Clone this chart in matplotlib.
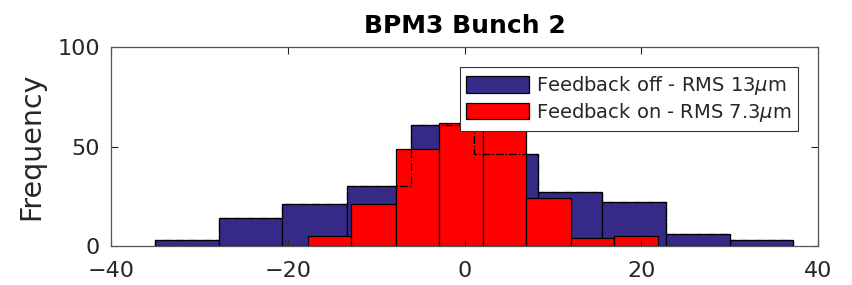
import numpy as np
import matplotlib.pyplot as plt

# ====== data ======
off_edges = [-35.0, -27.8, -20.6, -13.3, -6.1, 1.1, 8.3, 15.6, 22.8, 30.0, 37.2]
off_counts = [3, 14, 21, 30, 61, 46, 27, 22, 6, 3]

on_edges = [-17.7, -12.8, -7.8, -2.9, 2.1, 7.0, 12.0, 16.9, 21.9]
on_counts = [5, 21, 49, 62, 64, 24, 4, 5]

label_off = r'Feedback off - RMS 13$\mu$m'
label_on = r'Feedback on - RMS 7.3$\mu$m'
title = 'BPM3 Bunch 2'
xticks = [-40, -20, 0, 20, 40]
yticks = [0, 50, 100]

c_off = '#352a87'
c_on = '#ff0000'
txt = '#262626'

fig = plt.figure(figsize=(8.52, 2.85), dpi=100)
ax = fig.add_axes([0.1303, 0.1368, 0.8298, 0.6982])

def draw_hist(edges, counts, color, label):
    edges = np.asarray(edges)
    ax.bar(edges[:-1], counts, width=np.diff(edges), align='edge',
           color=color, edgecolor='k', linewidth=0.9, label=label)

draw_hist(off_edges, off_counts, c_off, label_off)
draw_hist(on_edges, on_counts, c_on, label_on)
# outline of the hidden "off" histogram
ax.stairs(off_counts, off_edges, color='k', lw=0.9, ls='-.', zorder=3)

ax.set_xlim(-40, 40)
ax.set_ylim(0, 100)
ax.set_xticks(xticks)
ax.set_yticks(yticks)
ax.tick_params(direction='in', length=5, width=0.8, top=True, right=True,
               labelsize=16, colors=txt, labelcolor=txt)
ax.tick_params(axis='y', pad=8)
ax.tick_params(axis='x', pad=11)
for s in ax.spines.values():
    s.set_color('#555555')
    s.set_linewidth(0.9)

ax.set_ylabel('Frequency', fontsize=20.5, color=txt, labelpad=9)
ax.set_title(title, fontsize=18, fontweight='bold', color='k', pad=10)

leg = ax.legend(loc='upper right', bbox_to_anchor=(0.9717, 0.8995),
                fontsize=14, frameon=True, fancybox=False, framealpha=1,
                handlelength=3.2, handleheight=0.95, handletextpad=0.37,
                borderpad=0.35, labelspacing=0.2, borderaxespad=0)
leg.get_frame().set_edgecolor('#333333')
leg.get_frame().set_linewidth(0.8)
for t in leg.get_texts():
    t.set_color(txt)

fig.savefig('out.png', dpi=100)
